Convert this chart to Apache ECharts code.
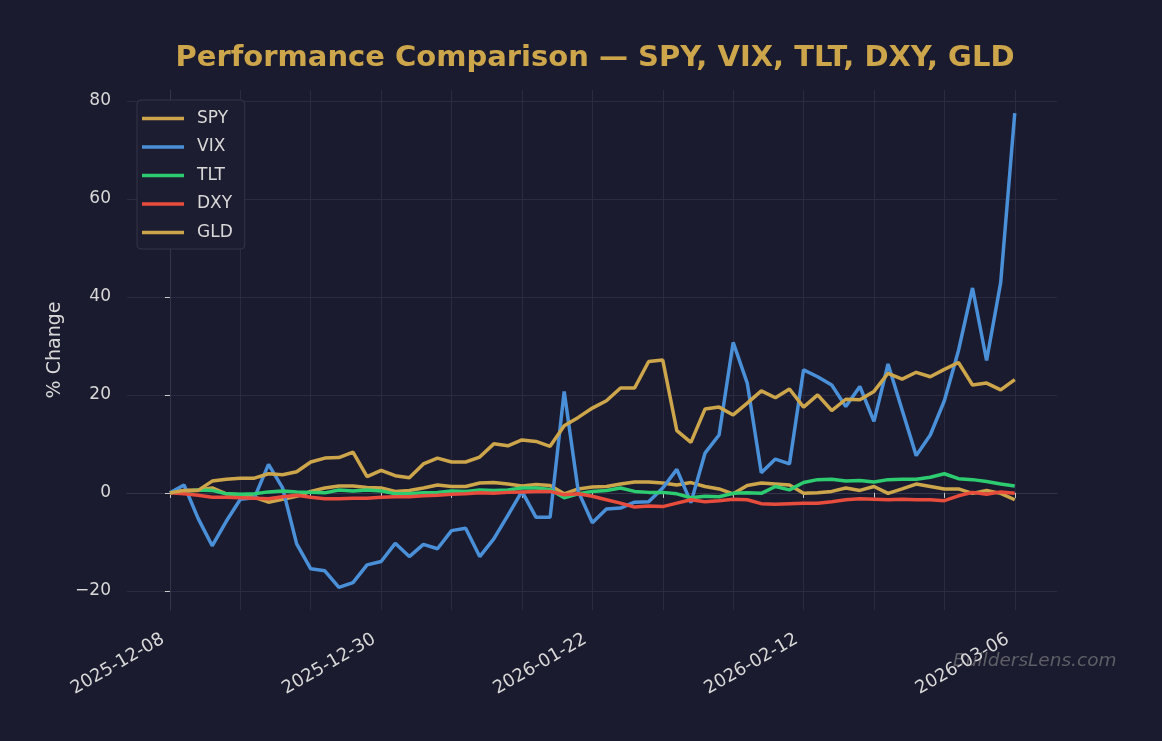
<!DOCTYPE html>
<html>
<head>
    <meta charset="utf-8">
    <title>Performance Comparison</title>
    <script src="https://cdn.jsdelivr.net/npm/echarts@6/dist/echarts.min.js"></script>
    <style>
        html, body { margin: 0; padding: 0; background: #1a1b2e; }
        #main { width: 1162px; height: 741px; }
    </style>
</head>
<body>
    <div id="main"></div>
    <script>
        // trading days shown on the x axis
        var dates = [
            '2025-12-08','2025-12-09','2025-12-10','2025-12-11','2025-12-12',
            '2025-12-15','2025-12-16','2025-12-17','2025-12-18','2025-12-19',
            '2025-12-22','2025-12-23','2025-12-24','2025-12-26','2025-12-29',
            '2025-12-30','2025-12-31','2026-01-02','2026-01-05','2026-01-06',
            '2026-01-07','2026-01-08','2026-01-09','2026-01-12','2026-01-13',
            '2026-01-14','2026-01-15','2026-01-16','2026-01-20','2026-01-21',
            '2026-01-22','2026-01-23','2026-01-26','2026-01-27','2026-01-28',
            '2026-01-29','2026-01-30','2026-02-02','2026-02-03','2026-02-04',
            '2026-02-05','2026-02-06','2026-02-09','2026-02-10','2026-02-11',
            '2026-02-12','2026-02-13','2026-02-17','2026-02-18','2026-02-19',
            '2026-02-20','2026-02-23','2026-02-24','2026-02-25','2026-02-26',
            '2026-02-27','2026-03-02','2026-03-03','2026-03-04','2026-03-05',
            '2026-03-06'
        ];

        // % change since first day
        var spy = [0, 0.5, 0.6, 1.0, -0.2, -0.4, -0.9, -1.9, -1.3, -0.7, 0.3, 1.0,
            1.4, 1.4, 1.1, 1.0, 0.3, 0.5, 1.0, 1.6, 1.3, 1.3, 2.0, 2.1,
            1.8, 1.4, 1.7, 1.5, -0.2, 0.8, 1.2, 1.3, 1.8, 2.2, 2.2, 2.0,
            1.6, 2.1, 1.3, 0.8, -0.2, 1.5, 2.0, 1.8, 1.6, -0.1, 0.0, 0.3,
            1.0, 0.5, 1.3, -0.1, 0.8, 1.8, 1.3, 0.8, 0.8, -0.1, 0.5, -0.1, -1.4];
        var vix = [0, 1.6, -5.2, -10.8, -5.8, -1.3, -1.0, 5.8, 1.0, -10.4, -15.5, -15.9,
            -19.3, -18.3, -14.7, -14.0, -10.3, -13.0, -10.5, -11.4, -7.7, -7.2, -13.0, -9.4,
            -4.6, 0.3, -5.0, -5.0, 20.7, 0.3, -6.1, -3.3, -3.1, -1.9, -1.8, 1.0,
            4.8, -2.0, 8.1, 11.8, 30.7, 22.4, 4.1, 6.9, 5.9, 25.1, 23.7, 22.0,
            17.6, 21.7, 14.6, 26.3, 16.9, 7.6, 11.8, 18.8, 29.0, 41.8, 27.0, 42.9, 77.5];
        var tlt = [0, 0.3, 0.6, 0.5, -0.2, -0.3, -0.2, 0.2, 0.4, 0.2, 0.1, 0.0,
            0.6, 0.4, 0.6, 0.4, -0.2, -0.2, 0.0, 0.1, 0.4, 0.3, 0.6, 0.5,
            0.6, 1.0, 1.0, 0.7, -1.0, -0.2, 0.3, 0.5, 1.0, 0.3, 0.1, 0.1,
            -0.2, -1.0, -0.7, -0.8, -0.1, 0.0, -0.1, 1.3, 0.6, 2.1, 2.7, 2.8,
            2.4, 2.5, 2.2, 2.7, 2.8, 2.8, 3.2, 3.9, 2.9, 2.7, 2.3, 1.8, 1.4];
        var dxy = [0, -0.2, -0.5, -0.9, -0.9, -1.0, -1.1, -1.2, -0.8, -0.5, -0.9, -1.2,
            -1.2, -1.1, -1.1, -0.9, -0.8, -0.8, -0.6, -0.5, -0.3, -0.2, 0.0, -0.1,
            0.1, 0.2, 0.3, 0.3, -0.4, -0.2, -0.7, -1.4, -2.1, -2.9, -2.7, -2.8,
            -2.1, -1.4, -1.8, -1.6, -1.3, -1.4, -2.2, -2.3, -2.2, -2.1, -2.1, -1.8,
            -1.4, -1.2, -1.3, -1.4, -1.3, -1.4, -1.4, -1.6, -0.6, 0.1, -0.3, 0.2, -0.1];
        var gld = [0, 0.5, 0.5, 2.4, 2.8, 3.0, 3.0, 3.9, 3.7, 4.3, 6.3, 7.1,
            7.2, 8.3, 3.3, 4.6, 3.5, 3.1, 5.9, 7.1, 6.3, 6.3, 7.3, 10.0,
            9.6, 10.8, 10.5, 9.5, 13.7, 15.4, 17.3, 18.8, 21.4, 21.4, 26.8, 27.1,
            12.7, 10.3, 17.1, 17.5, 15.9, 18.3, 20.8, 19.4, 21.2, 17.5, 20.0, 16.8,
            19.1, 19.0, 20.7, 24.4, 23.2, 24.6, 23.7, 25.2, 26.6, 22.0, 22.4, 21.0, 23.1];

        var yTicks = [-20, 0, 20, 40, 60, 80];
        var xTicks = [0, 5, 10, 15, 20, 25, 30, 35, 40, 45, 50, 55, 60];
        var xLabels = [0, 15, 30, 45, 60];

        var tickers = ['SPY', 'VIX', 'TLT', 'DXY', 'GLD'];
        var values = [spy, vix, tlt, dxy, gld];
        var colors = ['#cda64c', '#4a90d9', '#2ecc71', '#e74c3c', '#cda64c'];

        var font = 'DejaVu Sans';
        var gridColor = '#2a2b40';

        var myChart = echarts.init(document.getElementById('main'));
        myChart.setOption({
            backgroundColor: '#1a1b2e',
            animation: false,
            textStyle: { fontFamily: font },
            title: {
                text: 'Performance Comparison — SPY, VIX, TLT, DXY, GLD',
                left: 590,
                textAlign: 'center',
                top: 39,
                textStyle: { color: '#cda64c', fontSize: 29, fontWeight: 'bold', fontFamily: font }
            },
            legend: {
                data: tickers,
                orient: 'vertical',
                left: 137,
                top: 100,
                padding: [10, 12, 8, 5],
                itemGap: 11.5,
                itemWidth: 42,
                itemHeight: 3.5,
                icon: 'rect',
                borderColor: '#34354a',
                borderWidth: 1,
                borderRadius: 4,
                backgroundColor: '#1c1d30',
                textStyle: { color: '#d8d8d8', fontSize: 17, fontFamily: font, padding: [0, 0, 0, 8] }
            },
            grid: { left: 127, right: 105, top: 90, bottom: 131 },
            xAxis: {
                type: 'value',
                min: -3.05,
                max: 63.0,
                axisLine: { show: true, lineStyle: { color: '#34354a' } },
                axisTick: { show: true, customValues: xTicks, length: 5, lineStyle: { color: '#cccccc' } },
                axisLabel: {
                    customValues: xLabels,
                    rotate: 30,
                    margin: 24,
                    padding: [0, 8, 0, 0],
                    color: '#d8d8d8',
                    fontSize: 18,
                    fontFamily: font,
                    formatter: function (v) { return dates[v]; }
                },
                splitLine: { show: true, customValues: xTicks, lineStyle: { color: gridColor } }
            },
            yAxis: {
                type: 'value',
                min: -23.9,
                max: 82.2,
                name: '% Change',
                nameLocation: 'middle',
                nameGap: 61,
                nameTextStyle: { color: '#d8d8d8', fontSize: 19, fontFamily: font },
                axisLine: { show: true, lineStyle: { color: '#34354a' } },
                axisTick: { show: true, customValues: yTicks, length: 5, lineStyle: { color: '#cccccc' } },
                axisLabel: {
                    customValues: yTicks,
                    margin: 16,
                    color: '#d8d8d8',
                    fontSize: 17,
                    fontFamily: font,
                    formatter: function (v) { return String(v).replace('-', '\u2212'); }
                },
                splitLine: { show: true, customValues: yTicks, lineStyle: { color: gridColor } }
            },
            graphic: [{
                type: 'text',
                left: 953,
                top: 652,
                style: {
                    text: 'BuildersLens.com',
                    fill: 'rgba(150,150,150,0.55)',
                    font: 'italic 18.5px "DejaVu Sans"'
                }
            }],
            series: tickers.map(function (name, k) {
                return {
                    name: name,
                    type: 'line',
                    data: values[k].map(function (v, i) { return [i, v]; }),
                    showSymbol: false,
                    symbol: 'none',
                    lineStyle: { width: 3.5, color: colors[k] },
                    itemStyle: { color: colors[k] }
                };
            })
        });
    </script>
</body>
</html>
